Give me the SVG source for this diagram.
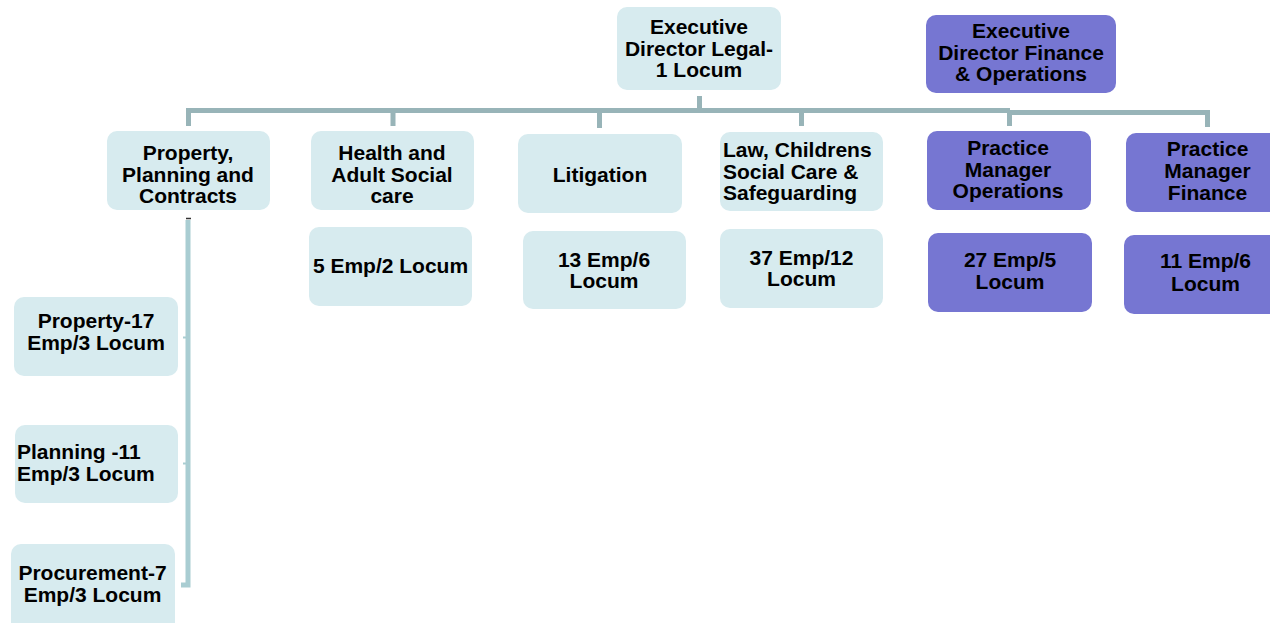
<svg xmlns="http://www.w3.org/2000/svg" width="1270" height="623" viewBox="0 0 1270 623">
<style>
.l{fill:#d7ebef}
.p{fill:#7676d2}
text{font-family:"Liberation Sans",Arial,sans-serif;font-weight:bold;font-size:21px;fill:#000;text-anchor:middle}
.st{text-anchor:start}
.c{fill:none;stroke:#98b4b8;stroke-width:5}
.v{fill:none;stroke:#a9cdd2;stroke-width:5}
</style>
<rect width="1270" height="623" fill="#fff"/>
<g id="connectors">
<path class="c" d="M699.5 96V110.5"/>
<path class="c" d="M188.5 126V110.5H1010"/>
<path class="c" d="M1008 112.5H1207.5V127"/>
<path class="c" d="M393 110.5V126M599.5 110.5V128M801.5 110.5V126M1009.5 112.5V126"/>
<path class="v" d="M188 220V585H181"/>
<path d="M186 218.5h5" stroke="#333" stroke-width="1.5"/>
<path d="M183 337.5h3M183 463.5h3" stroke="#a9cdd2" stroke-width="2"/>
</g>
<g id="exec-legal"><rect class="l" x="617" y="7" width="164" height="83" rx="10"/>
<text x="699" y="34">Executive</text><text x="699" y="55.5">Director Legal-</text><text x="699" y="77">1 Locum</text></g>
<g id="exec-finance"><rect class="p" x="926" y="15" width="190" height="78" rx="10"/>
<text x="1021" y="38">Executive</text><text x="1021" y="60">Director Finance</text><text x="1021" y="81">&amp; Operations</text></g>
<g id="ppc"><rect class="l" x="107" y="131" width="163" height="79" rx="10"/>
<text x="188" y="160">Property,</text><text x="188" y="182">Planning and</text><text x="188" y="203">Contracts</text></g>
<g id="health"><rect class="l" x="311" y="131" width="163" height="79" rx="10"/>
<text x="392" y="160">Health and</text><text x="392" y="182">Adult Social</text><text x="392" y="203">care</text></g>
<g id="litigation"><rect class="l" x="518" y="134" width="164" height="79" rx="10"/>
<text x="600" y="181.5">Litigation</text></g>
<g id="law"><rect class="l" x="720" y="132" width="163" height="79" rx="10"/>
<text class="st" x="723" y="156.5">Law, Childrens</text><text class="st" x="723" y="178.5">Social Care &amp;</text><text class="st" x="723" y="200">Safeguarding</text></g>
<g id="pm-ops"><rect class="p" x="927" y="131" width="164" height="79" rx="10"/>
<text x="1008" y="155">Practice</text><text x="1008" y="176.5">Manager</text><text x="1008" y="198">Operations</text></g>
<g id="pm-fin"><rect class="p" x="1126" y="133" width="160" height="79" rx="10"/>
<text x="1207.5" y="156">Practice</text><text x="1207.5" y="178">Manager</text><text x="1207.5" y="200">Finance</text></g>
<g id="health-count"><rect class="l" x="309" y="227" width="163" height="79" rx="10"/>
<text x="390.5" y="273">5 Emp/2 Locum</text></g>
<g id="lit-count"><rect class="l" x="523" y="231" width="163" height="78" rx="10"/>
<text x="604" y="266.5">13 Emp/6</text><text x="604" y="288">Locum</text></g>
<g id="law-count"><rect class="l" x="720" y="229" width="163" height="79" rx="10"/>
<text x="801.5" y="265">37 Emp/12</text><text x="801.5" y="286">Locum</text></g>
<g id="ops-count"><rect class="p" x="928" y="233" width="164" height="79" rx="10"/>
<text x="1010" y="267">27 Emp/5</text><text x="1010" y="289">Locum</text></g>
<g id="fin-count"><rect class="p" x="1124" y="235" width="160" height="79" rx="10"/>
<text x="1205.5" y="268">11 Emp/6</text><text x="1205.5" y="290.5">Locum</text></g>
<g id="property"><rect class="l" x="14" y="297" width="164" height="79" rx="10"/>
<text x="96" y="328">Property-17</text><text x="96" y="350">Emp/3 Locum</text></g>
<g id="planning"><rect class="l" x="15" y="425" width="163" height="78" rx="10"/>
<text class="st" x="17" y="458.5">Planning -11</text><text class="st" x="17" y="481">Emp/3 Locum</text></g>
<g id="procurement"><rect class="l" x="11" y="544" width="164" height="90" rx="10"/>
<text x="92.5" y="580">Procurement-7</text><text x="92.5" y="602">Emp/3 Locum</text></g>
</svg>
